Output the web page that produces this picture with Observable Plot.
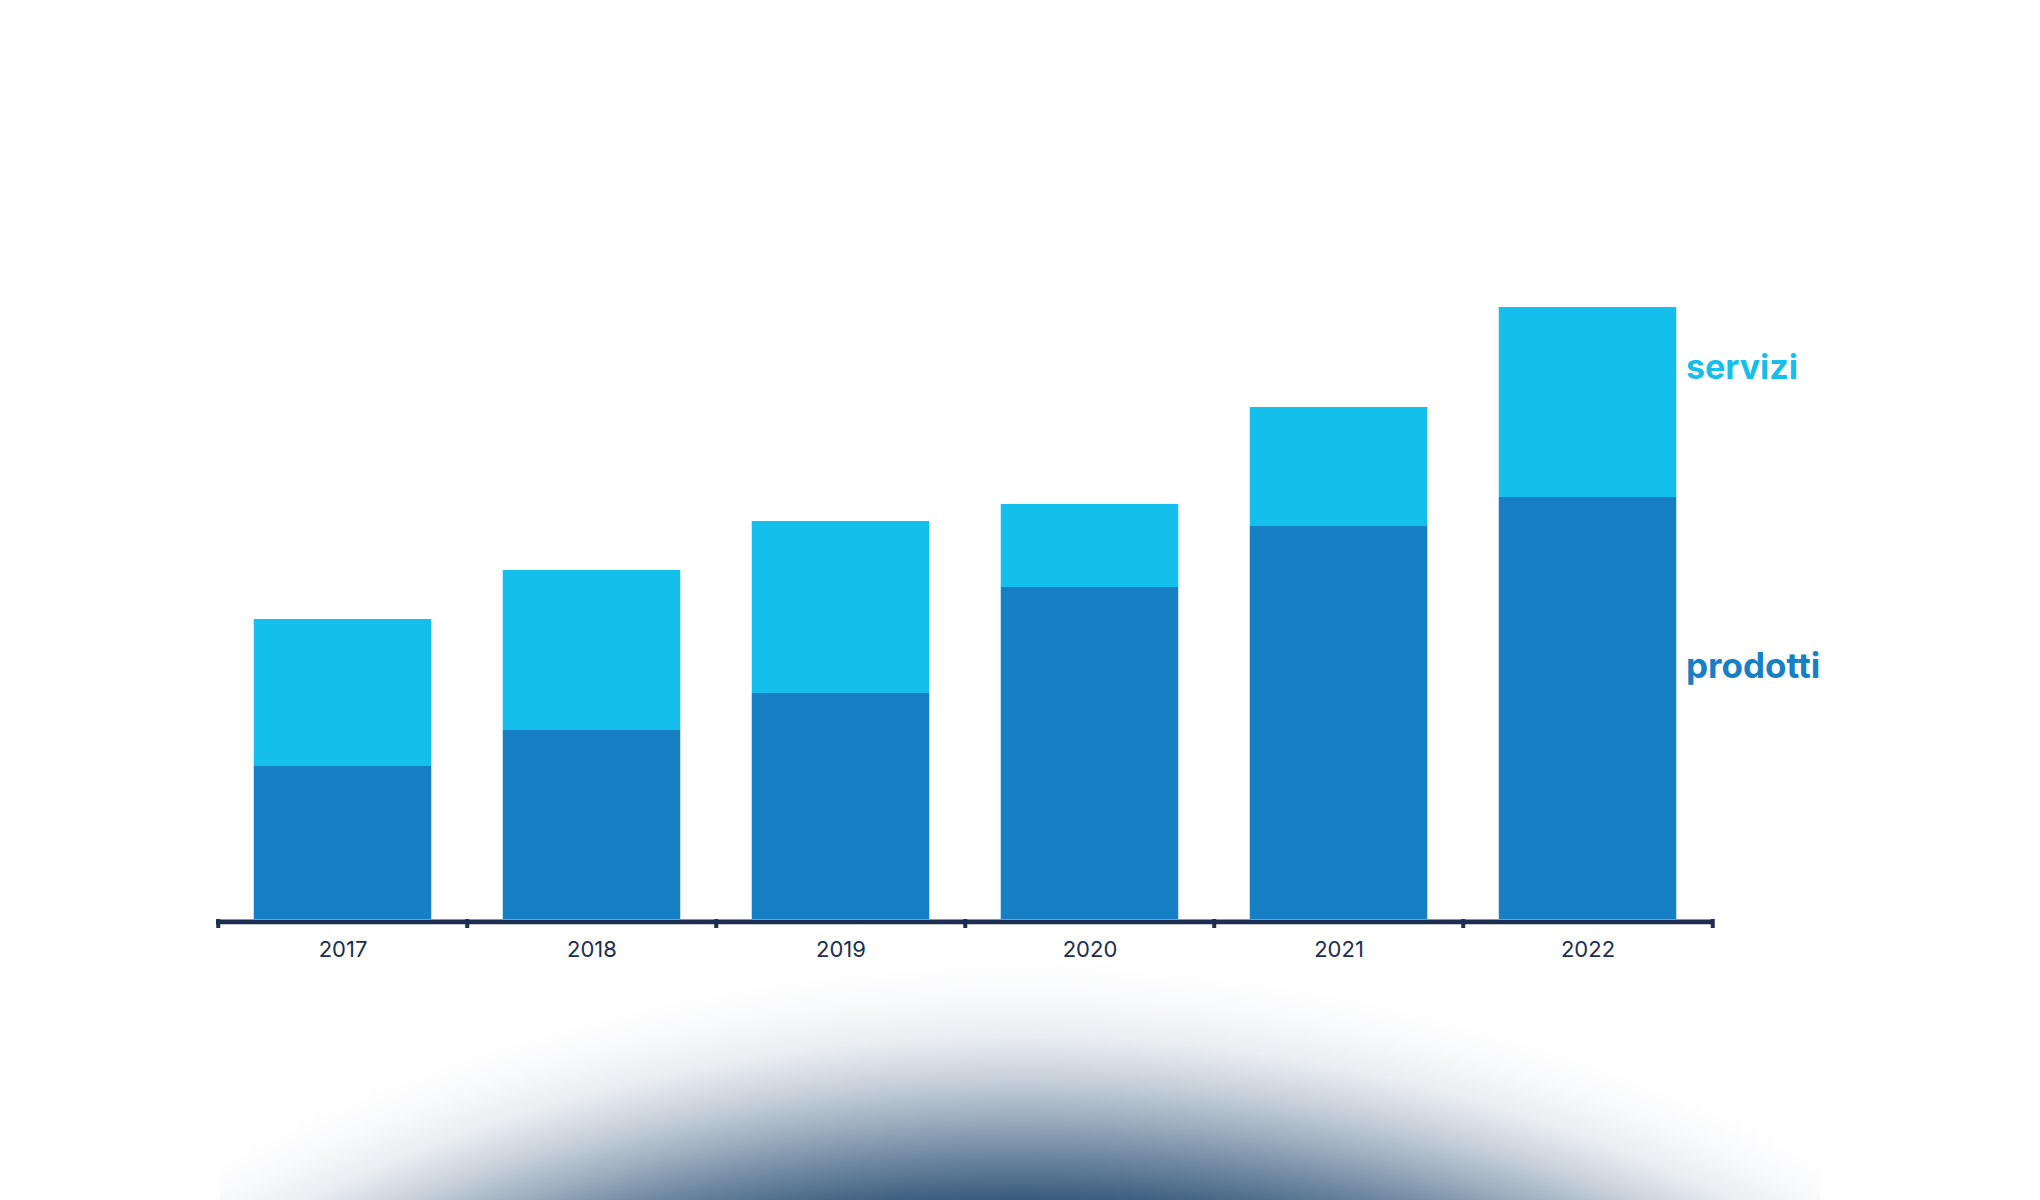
<!DOCTYPE html>
<html>
<head>
<meta charset="utf-8">
<script src="https://cdn.jsdelivr.net/npm/d3@7"></script>
<script src="https://cdn.jsdelivr.net/npm/@observablehq/plot@0.6"></script>
<style>
  html, body { margin: 0; padding: 0; background: #ffffff; }
  #wrap { position: relative; width: 2040px; height: 1200px; overflow: hidden; }
  #glow {
    position: absolute; left: 220px; top: 940px; width: 1600px; height: 260px;
    background: radial-gradient(circle 1760px at 800px 1734px,
      rgba(48,84,120,1) 1440px, rgba(48,84,120,0.96) 1474px, rgba(48,84,120,0.72) 1515px,
      rgba(48,84,120,0.5) 1552px, rgba(48,84,120,0.27) 1595px, rgba(48,84,120,0.1) 1638px,
      rgba(48,84,120,0.03) 1680px, rgba(48,84,120,0) 1715px);
  }
  #chart { position: absolute; left: 0; top: 0; }
</style>
</head>
<body>
<div id="wrap">
  <div id="glow"></div>
  <div id="chart"></div>
</div>
<script>
const years = ["2017", "2018", "2019", "2020", "2021", "2022"];
const prodotti = [153, 189, 226, 332, 393, 422];
const servizi = [147, 160, 172, 83, 119, 190];
const seriesNames = ["prodotti", "servizi"];
const seriesColors = ["#1780c4", "#14bfec"];

const data = [];
years.forEach((y, i) => data.push({year: y, series: "prodotti", value: prodotti[i]}));
years.forEach((y, i) => data.push({year: y, series: "servizi", value: servizi[i]}));

const W = 2040, H = 1000, mL = 216, mR = 327;
const bw = (W - mL - mR) / years.length;
const last = years.length - 1;
const totalLast = prodotti[last] + servizi[last];
const navy = "#1c2d52";

const chart = Plot.plot({
  width: W,
  height: H,
  marginLeft: mL,
  marginRight: mR,
  marginTop: 19,
  marginBottom: 81,
  style: {background: "transparent", overflow: "visible", fontFamily: "Inter, sans-serif"},
  x: {type: "band", domain: years, padding: 0, label: null},
  y: {domain: [0, 900], axis: null},
  color: {domain: seriesNames, range: seriesColors},
  marks: [
    Plot.barY(data, {x: "year", y: "value", fill: "series", insetLeft: 35.75, insetRight: 35.75}),
    Plot.ruleY([0], {stroke: navy, strokeWidth: 4.7, dy: 2.3}),
    Plot.ruleX(years, {x: d => d, y1: 0, y2: -9, dx: -bw / 2, stroke: navy, strokeWidth: 4}),
    Plot.ruleX([years[last]], {x: d => d, y1: 0, y2: -9, dx: bw / 2, stroke: navy, strokeWidth: 4}),
    Plot.axisX({tickSize: 0, tickPadding: 22, fontSize: 22, color: navy, label: null, fill: navy}),
    Plot.text(["servizi"], {
      x: () => years[last], y: () => totalLast - 0.32 * servizi[last],
      dx: bw / 2 - 35.75 + 9, textAnchor: "start", fill: seriesColors[1],
      fontSize: 34, fontWeight: 700
    }),
    Plot.text(["prodotti"], {
      x: () => years[last], y: () => 0.6 * prodotti[last],
      dx: bw / 2 - 35.75 + 9, textAnchor: "start", fill: seriesColors[0],
      fontSize: 35, fontWeight: 700
    })
  ]
});
document.getElementById("chart").appendChild(chart);
</script>
</body>
</html>
